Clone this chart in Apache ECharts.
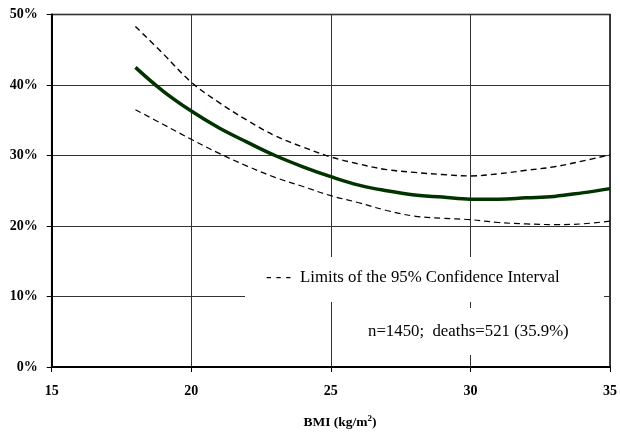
<!DOCTYPE html>
<html>
<head>
<meta charset="utf-8">
<script src="https://cdn.jsdelivr.net/npm/echarts@6/dist/echarts.min.js"></script>
<style>html,body{margin:0;padding:0;background:#fff}#c{width:620px;height:437px}</style>
</head>
<body>
<div id="c"></div>
<script>
var bmi = [18,19,20,21,22,23,24,25,26,27,28,29,30,31,32,33,34,35];
var central = [42.5,39.1,36.3,33.9,31.9,30.0,28.4,27.0,25.8,25.0,24.4,24.1,23.8,23.8,24.0,24.2,24.7,25.3];
var upper = [48.3,44.4,40.4,37.5,35.0,32.8,31.2,29.8,28.8,28.0,27.6,27.3,27.1,27.4,27.9,28.4,29.2,30.1];
var lower = [36.5,34.4,32.3,30.3,28.5,26.9,25.6,24.3,23.3,22.2,21.4,21.1,20.9,20.5,20.3,20.2,20.3,20.7];
var xTicks = [15,20,25,30,35];
var yTicks = [0,10,20,30,40,50];
var legendText = 'Limits of the 95% Confidence Interval';
var noteText = 'n=1450;  deaths=521 (35.9%)';

function pairs(ys){ return bmi.map(function(x,i){ return [x, ys[i]]; }); }

var serif = '"Liberation Serif","Times New Roman",serif';
var chart = echarts.init(document.getElementById('c'), null, {renderer:'canvas'});
chart.setOption({
  animation: false,
  backgroundColor: '#fff',
  grid: {left: 51.7, right: 6.3, top: 14.5, bottom: 70, show: true, borderColor: '#000', borderWidth: 1.5, backgroundColor: 'transparent'},
  xAxis: {
    type: 'value', min: xTicks[0], max: xTicks[xTicks.length-1], interval: 5,
    axisLine: {show: true, lineStyle: {color: '#000', width: 2}},
    axisTick: {show: true, length: 5, lineStyle: {color: '#000', width: 1}},
    axisLabel: {margin: 17, fontFamily: serif, fontWeight: 'bold', fontSize: 14, color: '#000',
      formatter: function(v){ return xTicks.indexOf(v) >= 0 ? String(v) : ''; }},
    splitLine: {show: true, lineStyle: {color: '#333', width: 1}}
  },
  yAxis: {
    type: 'value', min: yTicks[0], max: yTicks[yTicks.length-1], interval: 10,
    axisLine: {show: true, lineStyle: {color: '#000', width: 2}},
    axisTick: {show: true, length: 5, lineStyle: {color: '#000', width: 1}},
    axisLabel: {margin: 14, fontFamily: serif, fontWeight: 'bold', fontSize: 14, color: '#000',
      formatter: function(v){ return v + '%'; }},
    splitLine: {show: true, lineStyle: {color: '#333', width: 1}}
  },
  series: [
    {type: 'line', data: pairs(upper), smooth: 0.4, symbol: 'none', z: 10,
     lineStyle: {color: '#000', width: 1.4, type: [6,4]}},
    {type: 'line', data: pairs(lower), smooth: 0.4, symbol: 'none', z: 10,
     lineStyle: {color: '#000', width: 1.2, type: [6,4]}},
    {type: 'line', data: pairs(central), smooth: 0.4, symbol: 'none', z: 11,
     lineStyle: {color: '#003300', width: 3.5}}
  ],
  graphic: [
    {type: 'rect', z: 5, shape: {x: 245, y: 257, width: 359, height: 45}, style: {fill: '#fff'}},
    {type: 'rect', z: 5, shape: {x: 340, y: 308, width: 264, height: 47}, style: {fill: '#fff'}},
    {type: 'text', z: 6, x: 266, y: 278, style: {text: '- - -', font: '16.8px ' + serif, fill: '#000', verticalAlign: 'middle'}},
    {type: 'text', z: 6, x: 300, y: 278, style: {text: legendText, font: '16.8px ' + serif, fill: '#000', verticalAlign: 'middle'}},
    {type: 'text', z: 6, x: 368, y: 332, style: {text: noteText, font: '16.8px ' + serif, fill: '#000', verticalAlign: 'middle'}},
    {type: 'text', z: 6, x: 340, y: 423, style: {
      text: '{a|BMI (kg/m}{s|2}{a|)}', align: 'center', verticalAlign: 'middle',
      rich: {
        a: {fontFamily: serif, fontWeight: 'bold', fontSize: 13.5, fill: '#000', color: '#000'},
        s: {fontFamily: serif, fontWeight: 'bold', fontSize: 9, fill: '#000', color: '#000', verticalAlign: 'top', padding: [0,0,8,0]}
      }}}
  ]
});
</script>
</body>
</html>
